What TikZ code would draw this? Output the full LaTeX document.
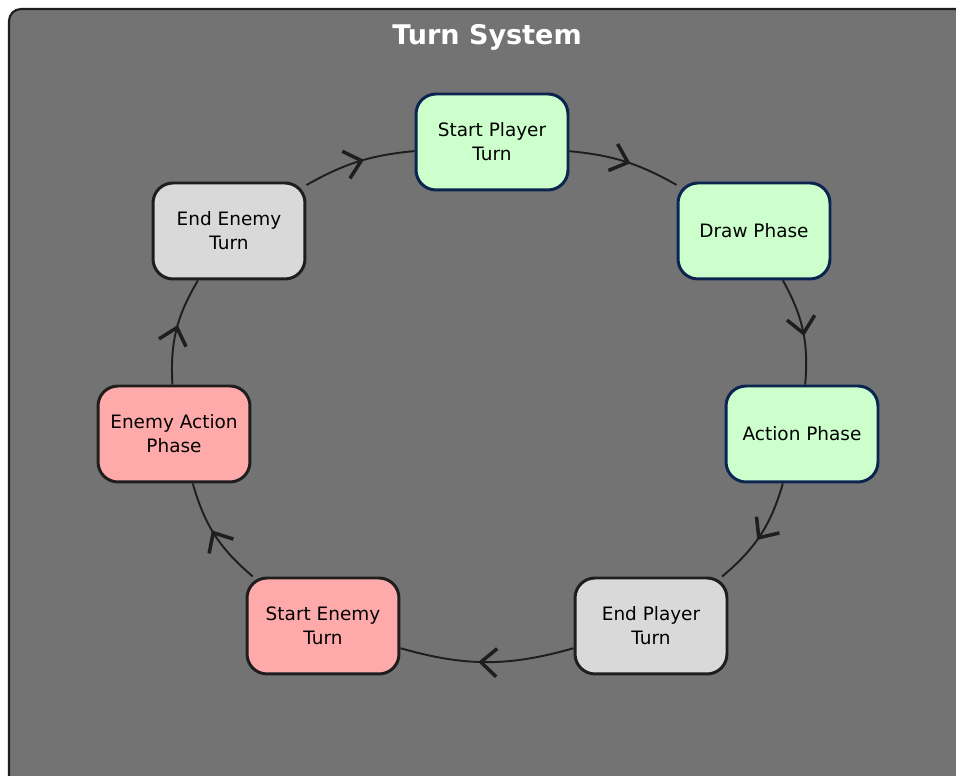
\documentclass[tikz,border=0pt]{standalone}
\usepackage{fontspec}
\setmainfont{DejaVu Sans}
\usepackage{tikz}
\usetikzlibrary{arrows.meta, decorations.markings}

\definecolor{panelgray}{HTML}{737373}
\definecolor{framedark}{HTML}{1E1E1E}
\definecolor{playergreen}{HTML}{CCFFCC}
\definecolor{neutralgray}{HTML}{D9D9D9}
\definecolor{enemyred}{HTML}{FFAAAA}
\definecolor{navyline}{HTML}{0B2550}

\tikzset{
  phase/.style={rectangle, rounded corners=0.4cm, line width=1.7pt, draw=framedark,
    minimum width=3.04cm, minimum height=1.92cm, align=center,
    font=\fontsize{10.5}{13.6}\selectfont},
  player/.style={phase, fill=playergreen, draw=navyline},
  neutral/.style={phase, fill=neutralgray},
  enemy/.style={phase, fill=enemyred},
  midarrow/.style={postaction={decorate}, decoration={markings,
    mark=at position 0.55 with {\arrow[line width=2pt]{Straight Barb[length=9pt,width=16pt]}}}}
}

\begin{document}
\begin{tikzpicture}[x=0.02cm, y=0.02cm]
\useasboundingbox (0,0) rectangle (956,776);
\draw[framedark, fill=panelgray, line width=1.2pt, rounded corners=0.24cm] (9,767) rectangle (1010,-40);
\node[text=white, font=\bfseries\fontsize{15.4}{18}\selectfont] (title) at (487,739) {Turn System};

\begin{scope}
    \node[player]  (SP) at (492,634) {Start Player\\Turn};
    \node[player]  (DP) at (754,545) {Draw Phase};
    \node[player]  (AP) at (802,342) {Action Phase};
    \node[neutral] (EP) at (651,150) {End Player\\Turn};
    \node[enemy]   (SE) at (323,150) {Start Enemy\\Turn};
    \node[enemy]   (EA) at (174,342) {Enemy Action\\Phase};
    \node[neutral] (EE) at (229,545) {End Enemy\\Turn};
\end{scope}

\begin{scope}[every edge/.style={draw, framedark, line width=1.1pt, midarrow}]
    \path (SP) edge[bend left=12] (DP);
    \path (DP) edge[bend left=17] (AP);
    \path (AP) edge[bend left=17] (EP);
    \path (EP) edge[bend left=16] (SE);
    \path (SE) edge[bend left=17] (EA);
    \path (EA) edge[bend left=17] (EE);
    \path (EE) edge[bend left=12] (SP);
\end{scope}
\end{tikzpicture}
\end{document}
